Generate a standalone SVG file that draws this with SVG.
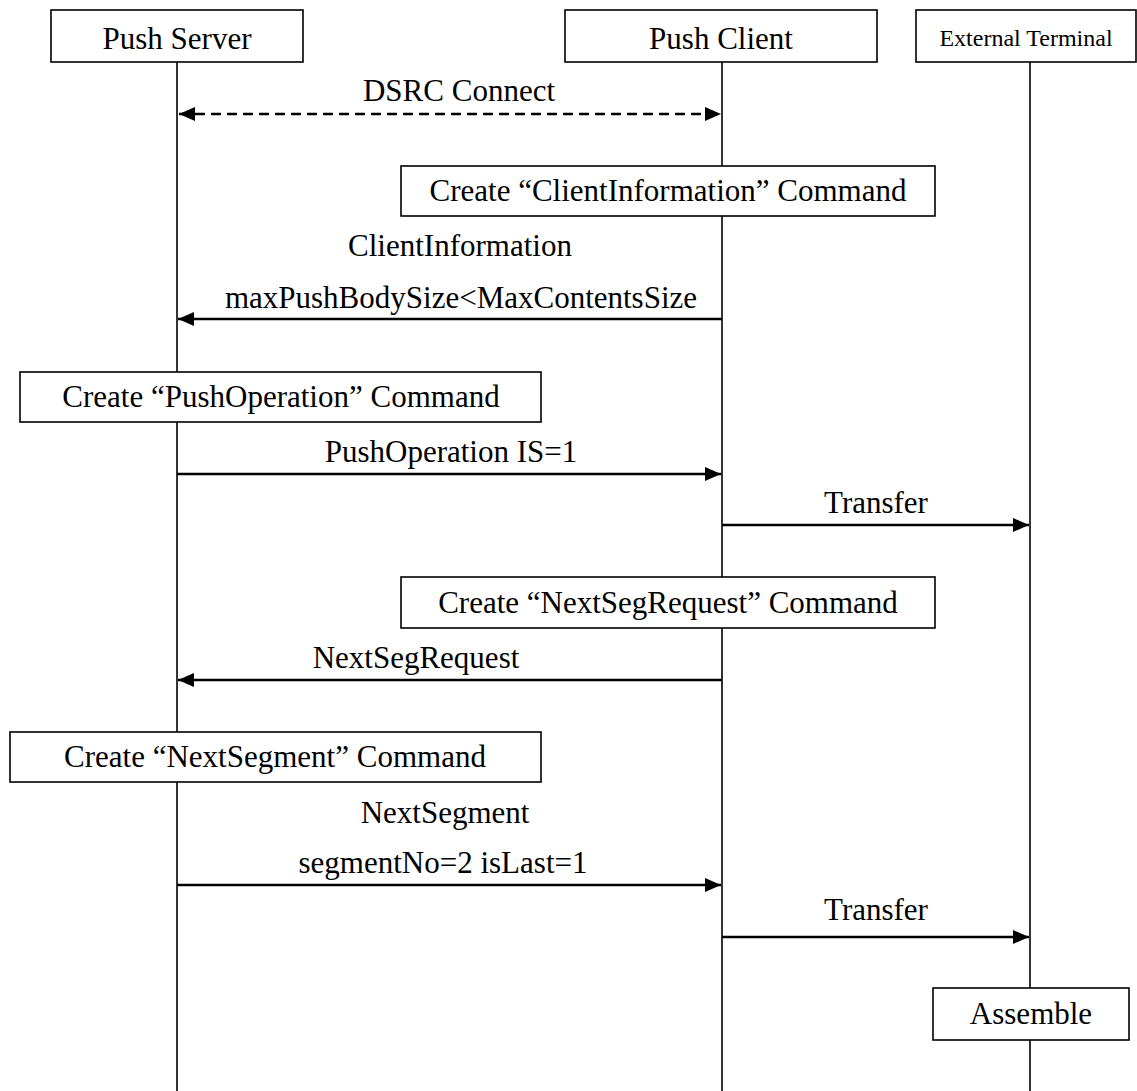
<svg xmlns="http://www.w3.org/2000/svg" width="1137" height="1091" viewBox="0 0 1137 1091">
  <style>
    .box { fill: #fff; stroke: #000; stroke-width: 1.6; }
    .life { stroke: #000; stroke-width: 1.6; fill: none; }
    .msg { stroke: #000; stroke-width: 2.3; fill: none; }
    .dash { stroke-dasharray: 10 6; }
    .t { font-family: 'Liberation Serif', 'DejaVu Serif', serif; font-size: 31px; fill: #000; text-anchor: middle; }
    .small { font-size: 24px; }
  </style>
  <defs>
    <marker id="head" viewBox="0 0 16 14" refX="16" refY="7" markerWidth="16" markerHeight="14" markerUnits="userSpaceOnUse" orient="auto-start-reverse">
      <path d="M0,0 L16,7 L0,14 Z" fill="#000"/>
    </marker>
  </defs>
  <rect width="1137" height="1091" fill="#fff"/>

  <!-- lifelines -->
  <g id="lifelines">
    <line class="life" x1="177" y1="62" x2="177" y2="1091"/>
    <line class="life" x1="722" y1="62" x2="722" y2="1091"/>
    <line class="life" x1="1030" y1="62" x2="1030" y2="1091"/>
  </g>

  <!-- participants -->
  <g id="push-server">
    <rect class="box" x="51" y="10" width="252" height="52"/>
    <text class="t" x="177" y="49" font-family="Liberation Serif, serif">Push Server</text>
  </g>
  <g id="push-client">
    <rect class="box" x="565" y="10" width="312" height="52"/>
    <text class="t" x="721" y="49" font-family="Liberation Serif, serif">Push Client</text>
  </g>
  <g id="external-terminal">
    <rect class="box" x="916" y="10" width="220" height="52"/>
    <text class="t small" x="1026" y="46" font-family="Liberation Serif, serif">External Terminal</text>
  </g>

  <!-- activity boxes -->
  <g id="create-clientinformation">
    <rect class="box" x="401" y="166" width="534" height="50"/>
    <text class="t" x="668" y="201" font-family="Liberation Serif, serif">Create “ClientInformation” Command</text>
  </g>
  <g id="create-pushoperation">
    <rect class="box" x="20" y="372" width="521" height="50"/>
    <text class="t" x="281" y="407" font-family="Liberation Serif, serif">Create “PushOperation” Command</text>
  </g>
  <g id="create-nextsegrequest">
    <rect class="box" x="401" y="577" width="534" height="51"/>
    <text class="t" x="668" y="613" font-family="Liberation Serif, serif">Create “NextSegRequest” Command</text>
  </g>
  <g id="create-nextsegment">
    <rect class="box" x="10" y="732" width="531" height="50"/>
    <text class="t" x="275" y="767" font-family="Liberation Serif, serif">Create “NextSegment” Command</text>
  </g>
  <g id="assemble">
    <rect class="box" x="933" y="988" width="196" height="52"/>
    <text class="t" x="1031" y="1024" font-family="Liberation Serif, serif">Assemble</text>
  </g>

  <!-- messages -->
  <g id="connectors">
    <line class="msg dash" x1="179" y1="114" x2="721" y2="114" marker-start="url(#head)" marker-end="url(#head)"/>
    <line class="msg" x1="722" y1="319" x2="178" y2="319" marker-end="url(#head)"/>
    <line class="msg" x1="177" y1="474" x2="721" y2="474" marker-end="url(#head)"/>
    <line class="msg" x1="722" y1="525" x2="1029" y2="525" marker-end="url(#head)"/>
    <line class="msg" x1="722" y1="680" x2="178" y2="680" marker-end="url(#head)"/>
    <line class="msg" x1="177" y1="885" x2="721" y2="885" marker-end="url(#head)"/>
    <line class="msg" x1="722" y1="937" x2="1029" y2="937" marker-end="url(#head)"/>
  </g>

  <!-- message labels -->
  <g id="labels" font-family="Liberation Serif, serif">
    <text class="t" x="459" y="101">DSRC Connect</text>
    <text class="t" x="460" y="256">ClientInformation</text>
    <text class="t" x="461" y="308">maxPushBodySize&lt;MaxContentsSize</text>
    <text class="t" x="451" y="462">PushOperation IS=1</text>
    <text class="t" x="876" y="513">Transfer</text>
    <text class="t" x="416" y="668">NextSegRequest</text>
    <text class="t" x="445" y="823">NextSegment</text>
    <text class="t" x="443" y="873">segmentNo=2 isLast=1</text>
    <text class="t" x="876" y="920">Transfer</text>
  </g>
</svg>
